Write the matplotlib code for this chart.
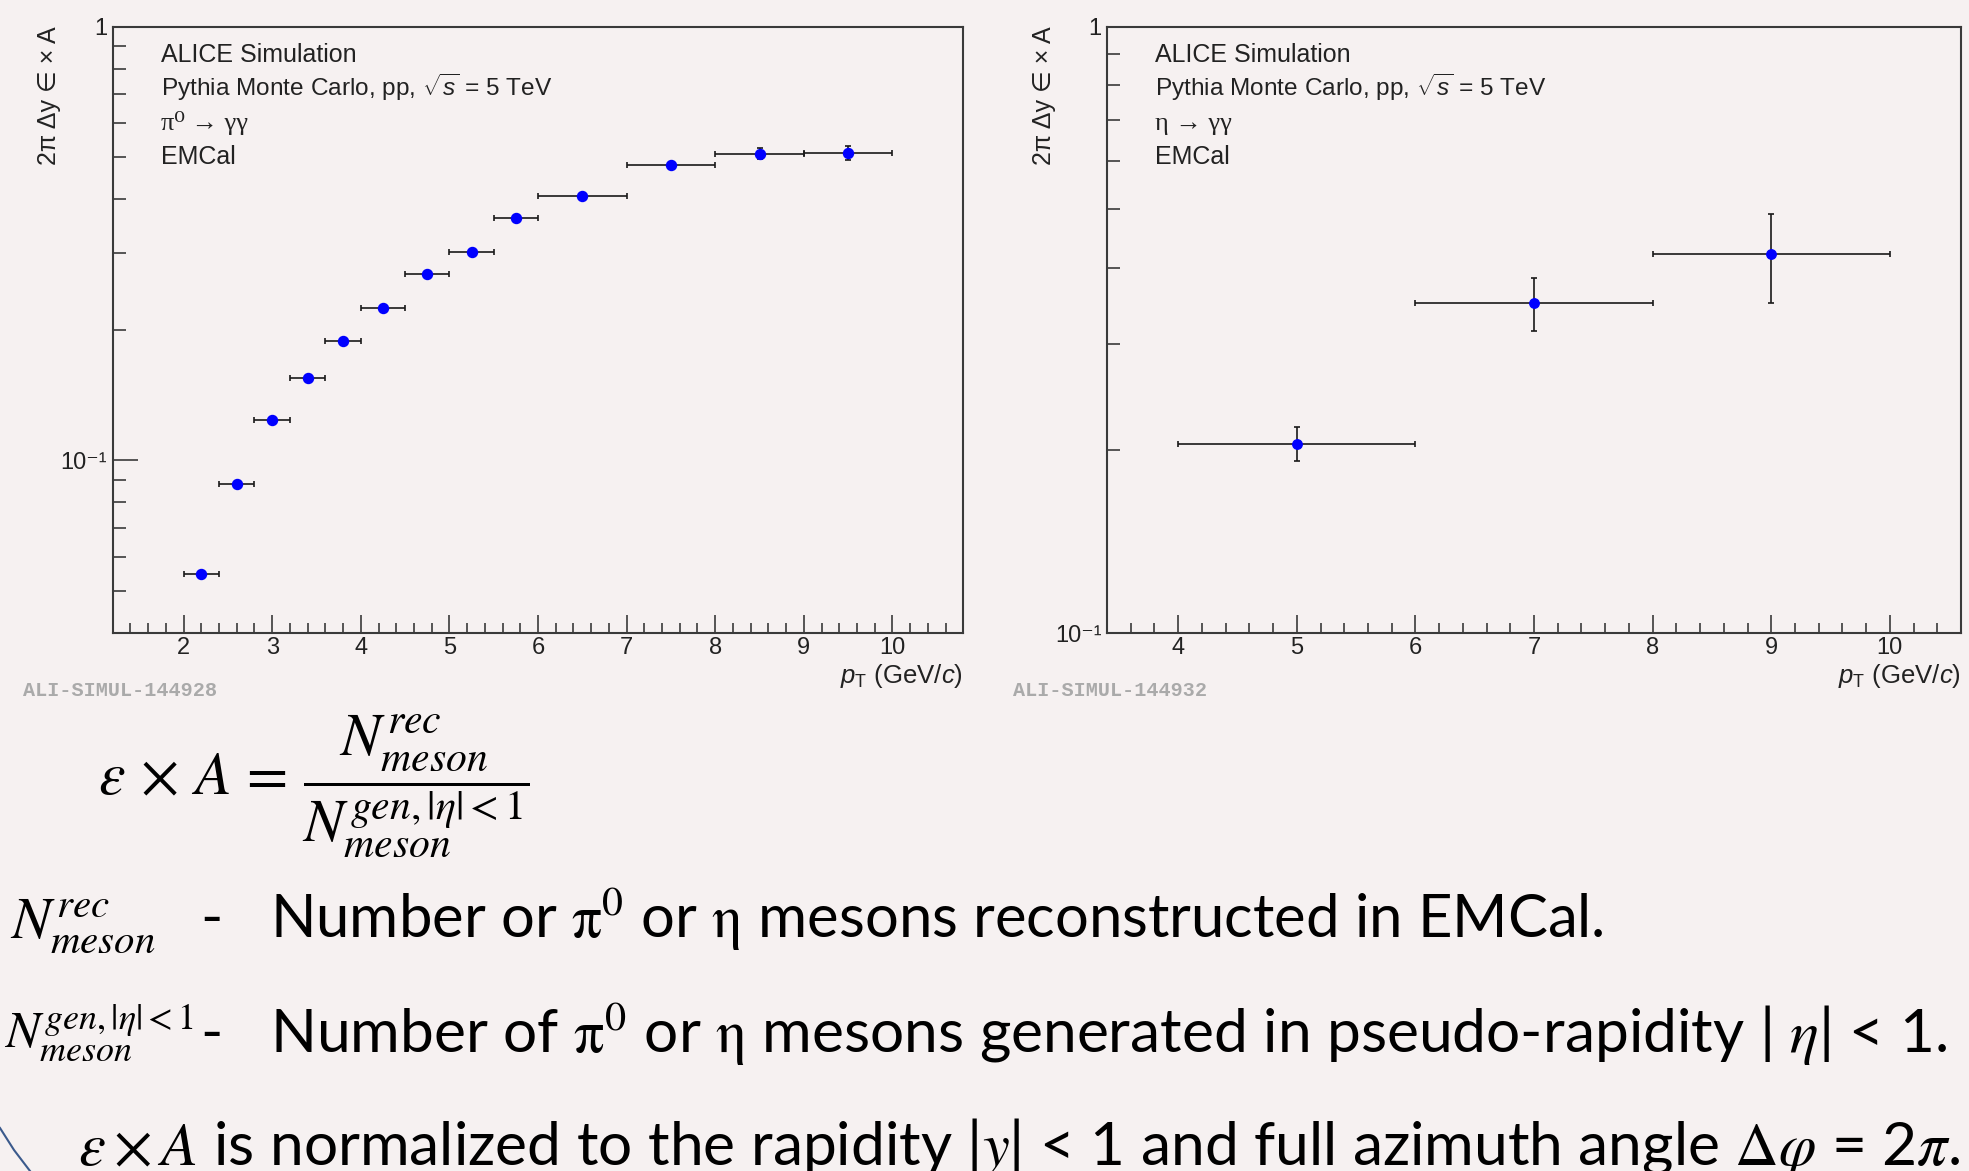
import numpy as np
import matplotlib.pyplot as plt
from matplotlib.lines import Line2D
from matplotlib.ticker import MultipleLocator, LogLocator, NullFormatter

# pi0 -> gamma gamma : efficiency x acceptance per pT bin
pi0_lo = [2.0, 2.4, 2.8, 3.2, 3.6, 4.0, 4.5, 5.0, 5.5, 6.0, 7.0, 8.0, 9.0]
pi0_hi = [2.4, 2.8, 3.2, 3.6, 4.0, 4.5, 5.0, 5.5, 6.0, 7.0, 8.0, 9.0, 10.0]
pi0_val = [0.0546, 0.0882, 0.1236, 0.1547, 0.1885, 0.2245, 0.2691,
           0.3022, 0.3618, 0.4074, 0.4797, 0.5096, 0.5120]
pi0_err = [0.0010, 0.0013, 0.0018, 0.0020, 0.0025, 0.0028, 0.0035,
           0.0040, 0.0050, 0.0055, 0.0070, 0.0150, 0.0195]

# eta -> gamma gamma
eta_lo = [4.0, 6.0, 8.0]
eta_hi = [6.0, 8.0, 10.0]
eta_val = [0.2052, 0.3499, 0.4211]
eta_err = [0.0132, 0.0348, 0.0705]

W, H = 1969, 1171
bg = '#f6f1f1'

plt.rcParams['mathtext.fontset'] = 'custom'
plt.rcParams['mathtext.rm'] = 'Liberation Sans'
plt.rcParams['mathtext.it'] = 'Liberation Sans:italic'
plt.rcParams['mathtext.bf'] = 'Liberation Sans:bold'
sans = ['Liberation Sans', 'DejaVu Sans']
serif = ['Liberation Serif', 'DejaVu Serif']
body = ['Lato', 'DejaVu Sans']

fig = plt.figure(figsize=(W / 100, H / 100), dpi=100, facecolor=bg)


def ft(x, y, s, **kw):
    return fig.text(x / W, 1 - y / H, s, **kw)


def panel(x0, x1, lo, hi, val, err, xlim, ylim, ms):
    top, bot = 26.5, 633
    ax = fig.add_axes([x0 / W, 1 - bot / H, (x1 - x0) / W, (bot - top) / H])
    ax.set_facecolor(bg)
    lo, hi = np.array(lo), np.array(hi)
    x = (lo + hi) / 2
    ax.errorbar(x, val, xerr=[x - lo, hi - x], yerr=err, fmt='o', color='blue',
                ms=ms, ecolor='#1a1a1a', elinewidth=1.2, capsize=2.2, capthick=1.2,
                zorder=3)
    ax.set_yscale('log')
    ax.set_xlim(*xlim)
    ax.set_ylim(*ylim)
    for s in ax.spines.values():
        s.set_linewidth(1.5)
        s.set_color('#3a3a3a')
    ax.xaxis.set_major_locator(MultipleLocator(1))
    ax.xaxis.set_minor_locator(MultipleLocator(0.2))
    ax.set_yticks([0.1, 1])
    ax.set_yticklabels(['10\u207b\u00b9', '1'])
    ax.yaxis.set_minor_locator(LogLocator(base=10, subs=np.arange(2, 10)))
    ax.yaxis.set_minor_formatter(NullFormatter())
    ax.tick_params(which='both', direction='in', top=False, right=False,
                   color='#3a3a3a', labelcolor='#222222', width=1.2)
    ax.tick_params(axis='x', which='major', length=13, labelsize=17, pad=3)
    ax.tick_params(axis='x', which='minor', length=7)
    ax.tick_params(axis='y', which='major', length=18, labelsize=17, pad=4)
    ax.tick_params(axis='y', which='minor', length=9)
    for lab in ax.get_xticklabels() + ax.get_yticklabels():
        lab.set_family(sans)
    return ax


ax1 = panel(112.7, 963.3, pi0_lo, pi0_hi, pi0_val, pi0_err, (1.2, 10.8), (0.04, 1.0), 7.2)
ax2 = panel(1107, 1961, eta_lo, eta_hi, eta_val, eta_err, (3.4, 10.6), (0.1, 1.0), 6.8)

# in-plot labels
for xa, xt, ylx, decay, tag, xtag in [
        (963.3, 161, 49, '\u03c0\u2070 \u2192 \u03b3\u03b3', 'ALI-SIMUL-144928', 23),
        (1961, 1155, 1044, '\u03b7 \u2192 \u03b3\u03b3', 'ALI-SIMUL-144932', 1013)]:
    ft(xt, 61.7, 'ALICE Simulation', fontsize=18, family=sans, color='#222222')
    ft(xt, 95.7, r'Pythia Monte Carlo, pp, $\sqrt{s}$ = 5 TeV', fontsize=17.6, family=sans, color='#222222')
    ft(xt, 130, decay, fontsize=19, family=serif, color='#222222')
    ft(xt, 164.5, 'EMCal', fontsize=18, family=sans, color='#222222')
    ft(ylx, 26, '2\u03c0 \u0394y \u2208 \u00d7 A', fontsize=18, family=sans, color='#222222',
       rotation=90, ha='center', va='top')
    ft(xa, 676, r'$p_{\rm T}$ (GeV/$c$)', fontsize=18.5, family=sans, color='#222222',
       ha='right', va='center')
    ft(xtag, 691, tag, fontsize=14.5, family='Liberation Mono',
       weight='bold', color='#aaaaaa', va='center')

# definition of efficiency x acceptance
ft(98, 795, r'$\varepsilon\,\times\,A\,=\,\dfrac{N^{rec}_{meson}}{N^{gen,|\eta|<1}_{meson}}$',
   fontsize=43, math_fontfamily='stix', va='baseline', color='black')

ft(10, 937, r'$N^{rec}_{meson}$', fontsize=42, math_fontfamily='stix', va='baseline', color='black')
ft(200, 937, '-', fontsize=43.5, family=body, va='baseline', color='black')
ft(270, 937, r'Number or $\mathrm{\pi}^0$ or $\mathrm{\eta}$ mesons reconstructed in EMCal.',
   fontsize=43, family=body, math_fontfamily='stix', va='baseline', color='black')

ft(4, 1047, r'$N^{gen,|\eta|<1}_{meson}$', fontsize=37, math_fontfamily='stix', va='baseline', color='black')
ft(200, 1052, '-', fontsize=43.5, family=body, va='baseline', color='black')
ft(270, 1052, r'Number of $\mathrm{\pi}^0$ or $\mathrm{\eta}$ mesons generated in pseudo-rapidity | $\eta$| < 1.',
   fontsize=43.5, family=body, math_fontfamily='stix', va='baseline', color='black')

ft(78, 1165, r'$\varepsilon \times A$ is normalized to the rapidity |$y$| < 1 and full azimuth angle $\Delta\varphi$ = 2$\pi$.',
   fontsize=43.5, family=body, math_fontfamily='stix', va='baseline', color='black')

# slide decoration at the bottom-left corner
fig.add_artist(Line2D([0 / W, 14 / W, 30 / W], [1 - 1128 / H, 1 - 1150 / H, 1 - 1171 / H],
                      transform=fig.transFigure, color='#3b5a8c', lw=1.5))

fig.savefig('out.png', dpi=100, facecolor=bg)
